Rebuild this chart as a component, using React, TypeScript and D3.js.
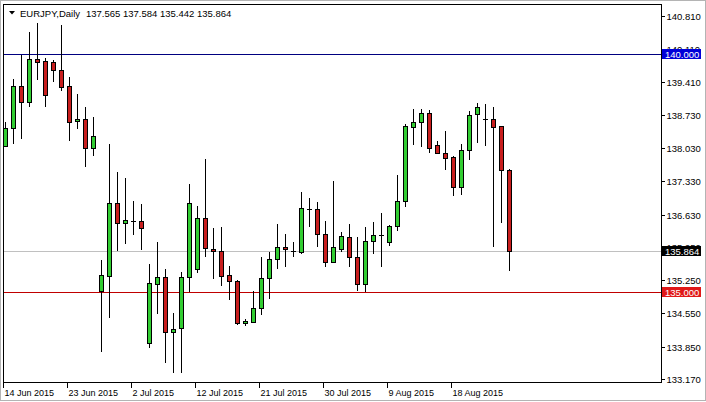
import React from "react";
import * as d3 from "d3";

// EURJPY daily OHLC
const opens = [
  138.077, 138.443, 139.333, 139.003, 139.895, 139.859, 139.838, 139.67, 139.333, 138.591,
  138.639, 138.023, 135.027, 135.343, 136.872, 136.445, 136.5, 136.493, 133.921, 135.168,
  135.316, 134.148, 134.236, 135.309, 135.478, 136.55, 135.905, 135.862, 135.358, 135.238,
  134.342, 134.375, 134.657, 135.288, 135.688, 135.94, 135.862, 135.848, 136.746, 136.74,
  136.214, 135.637, 135.898, 136.151, 135.73, 135.162, 136.073, 136.193, 136.048, 136.378,
  136.92, 138.477, 138.57, 138.759, 138.086, 137.918, 137.833, 137.202, 137.993, 138.738,
  138.633, 138.633, 138.492, 137.565,
];
const highs = [
  138.582, 139.48, 139.985, 140.463, 140.665, 139.922, 139.88, 140.616, 139.516, 139.165,
  138.885, 138.675, 135.673, 138.113, 137.518, 137.392, 136.914, 136.851, 135.583, 136.052,
  135.484, 134.552, 135.414, 137.272, 136.809, 137.791, 136.34, 136.361, 135.547, 135.252,
  134.426, 135.027, 135.743, 135.835, 136.43, 136.22, 136.058, 137.097, 136.971, 136.899,
  136.493, 137.341, 136.268, 136.43, 136.151, 136.361, 136.466, 136.662, 136.409, 137.461,
  138.534, 138.849, 138.849, 138.828, 138.176, 138.387, 137.861, 138.113, 138.807, 138.969,
  138.955, 138.885, 138.492, 137.584,
];
const lows = [
  138.056, 138.113, 138.218, 138.898, 139.459, 138.898, 139.424, 139.234, 138.183, 138.429,
  137.636, 137.867, 133.744, 134.447, 135.869, 136.01, 136.199, 135.883, 133.828, 134.544,
  133.5, 133.29, 133.302, 134.994, 135.393, 135.73, 135.267, 135.133, 134.832, 134.3,
  134.285, 134.348, 134.516, 134.846, 135.478, 135.52, 135.73, 135.799, 136.361, 135.953,
  135.532, 135.604, 135.848, 135.532, 135.027, 134.994, 135.793, 135.532, 135.974, 136.289,
  136.782, 138.092, 138.056, 137.918, 137.897, 137.566, 137.019, 137.04, 137.777, 138.141,
  138.071, 135.94, 136.458, 135.442,
];
const closes = [
  138.45, 139.333, 139.003, 139.895, 139.844, 139.15, 139.663, 139.318, 138.582, 138.639,
  138.023, 138.281, 135.358, 136.872, 136.445, 136.515, 136.5, 136.353, 135.183, 135.316,
  134.148, 134.215, 135.309, 136.866, 136.55, 135.919, 135.862, 135.343, 135.238, 134.342,
  134.39, 134.657, 135.288, 135.688, 135.953, 135.898, 135.862, 136.761, 136.746, 136.22,
  135.637, 135.953, 136.178, 135.73, 135.162, 136.073, 136.193, 136.193, 136.388, 136.914,
  138.492, 138.57, 138.759, 138.023, 137.918, 137.825, 137.202, 137.981, 138.723, 138.885,
  138.633, 138.464, 137.56, 135.864,
];

const priceTicks = [140.81, 140.11, 139.41, 138.73, 138.03, 137.33, 136.63, 135.95, 135.25, 134.55, 133.85, 133.17];
const dateLabels = ["14 Jun 2015", "23 Jun 2015", "2 Jul 2015", "12 Jul 2015", "21 Jul 2015", "30 Jul 2015", "9 Aug 2015", "18 Aug 2015"];
const dateLabelBars = [0, 8, 16, 24, 32, 40, 48, 56];

const symbolName = "EURJPY,Daily";
const resistanceLevel = 140.0;
const supportLevel = 135.0;

const W = 706;
const H = 402;
const FRAME = { left: 3.5, top: 4.5, right: 661.5, bottom: 382.5 };
const FONT = "'Liberation Sans', Arial, sans-serif";
const GREEN = "#32CD32";
const RED = "#C81E1E";

export default function App() {
  const n = opens.length;
  const y = d3.scaleLinear().domain([133.1, 141.052]).range([382.3, 4.3]);
  const slots = 82;
  const x = d3.scaleLinear().domain([0, slots - 1]).range([5.5, 5.5 + 8 * (slots - 1)]);
  const snap = (v: number) => Math.round(v) + 0.5;
  const last = n - 1;
  const bid = closes[last];
  const fmt = d3.format(".3f");

  const candles = d3.range(n).map((i) => {
    const cx = x(i);
    const o = opens[i], c = closes[i];
    const top = snap(y(Math.max(o, c)));
    const bot = snap(y(Math.min(o, c)));
    const hi = y(highs[i]);
    const lo = y(lows[i]);
    const up = c >= o;
    const h = bot - top;
    return (
      <g key={i}>
        <line x1={cx} x2={cx} y1={Math.round(hi)} y2={Math.round(lo)} stroke="#000" strokeWidth={1} />
        {h >= 1 ? (
          <rect x={cx - 2} y={top} width={4} height={h} fill={up ? GREEN : RED} stroke="#000" strokeWidth={1} />
        ) : (
          <line x1={cx - 2.5} x2={cx + 2.5} y1={top} y2={top} stroke="#000" strokeWidth={1} />
        )}
      </g>
    );
  });

  const levelBox = (price: number, bg: string, key: string) => {
    const yy = snap(y(price));
    return (
      <g key={key}>
        <rect x={662} y={yy - 5.5} width={39} height={10} fill={bg} />
        <text x={665} y={yy} dy="0.35em" fontSize={9.5} fontFamily={FONT} fill="#fff">
          {fmt(price)}
        </text>
      </g>
    );
  };

  return (
    <svg
      width={W}
      height={H}
      style={{ position: "fixed", left: 0, top: 0, background: "#fff" }}
      shapeRendering="crispEdges"
    >
      <rect x={0} y={0} width={W} height={H} fill="#fff" />
      <rect x={0.5} y={0.5} width={W - 1} height={H - 2} fill="none" stroke="#b4b4b4" />

      {/* horizontal level lines */}
      <line x1={FRAME.left} x2={FRAME.right} y1={snap(y(resistanceLevel))} y2={snap(y(resistanceLevel))} stroke="#000080" />
      <line x1={FRAME.left} x2={FRAME.right} y1={snap(y(bid))} y2={snap(y(bid))} stroke="#c0c0c0" />
      <line x1={FRAME.left} x2={FRAME.right} y1={snap(y(supportLevel))} y2={snap(y(supportLevel))} stroke="#c00000" />

      {candles}

      {/* frame */}
      <rect x={FRAME.left} y={FRAME.top} width={FRAME.right - FRAME.left} height={FRAME.bottom - FRAME.top} fill="none" stroke="#000" />

      {/* right price axis */}
      {priceTicks.map((p, i) => {
        const yy = snap(y(p));
        return (
          <g key={"pt" + i}>
            <line x1={FRAME.right} x2={FRAME.right + 3} y1={yy} y2={yy} stroke="#000" />
            <text x={666.5} y={yy} dy="0.35em" fontSize={9.5} fontFamily={FONT} fill="#000">
              {fmt(p)}
            </text>
          </g>
        );
      })}

      {levelBox(resistanceLevel, "#0000D8", "lb1")}
      {levelBox(bid, "#000", "lb2")}
      {levelBox(supportLevel, "#E01818", "lb3")}

      {/* bottom date axis */}
      {dateLabels.map((d, i) => {
        const cx = x(dateLabelBars[i]);
        return (
          <g key={"dl" + i}>
            <line x1={cx - 2} x2={cx - 2} y1={FRAME.bottom} y2={FRAME.bottom + 5} stroke="#000" />
            <text x={cx - 1} y={396} fontSize={9} fontFamily={FONT} fill="#000">
              {d}
            </text>
          </g>
        );
      })}

      {/* header */}
      <path d="M9,11 L15,11 L12,14.5 Z" fill="#000" shapeRendering="auto" />
      <text x={20} y={17} fontSize={9.5} fontFamily={FONT} fill="#000">
        {symbolName}
      </text>
      <text x={86} y={17} fontSize={9.5} fontFamily={FONT} fill="#000">
        {[opens[last], highs[last], lows[last], closes[last]].map(fmt).join(" ")}
      </text>
    </svg>
  );
}
